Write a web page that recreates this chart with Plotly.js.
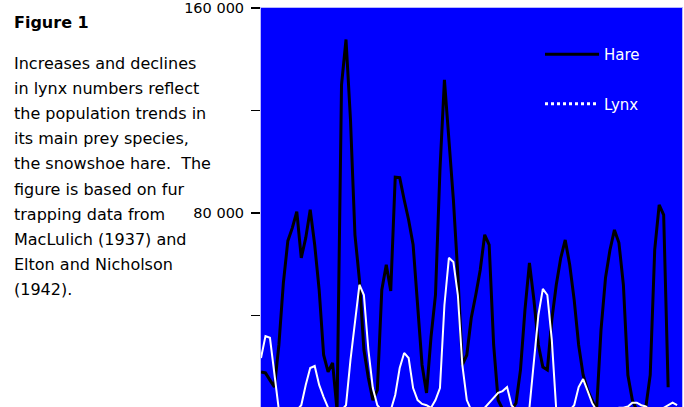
<!DOCTYPE html>
<html>
<head>
<meta charset="utf-8">
<script src="https://cdn.plot.ly/plotly-3.0.1.min.js"></script>
<style>
  html, body { margin: 0; padding: 0; background: #ffffff; }
  #chart { width: 684px; height: 407px; }
</style>
</head>
<body>
<div id="chart"></div>
<script>
// ---- data ----
const years = [1845,1846,1847,1848,1849,1850,1851,1852,1853,1854,1855,1856,1857,1858,1859,1860,1861,1862,1863,1864,
  1865,1866,1867,1868,1869,1870,1871,1872,1873,1874,1875,1876,1877,1878,1879,1880,1881,1882,1883,1884,
  1885,1886,1887,1888,1889,1890,1891,1892,1893,1894,1895,1896,1897,1898,1899,1900,1901,1902,1903,1904,
  1905,1906,1907,1908,1909,1910,1911,1912,1913,1914,1915,1916,1917,1918,1919,1920,1921,1922,1923,1924,
  1925,1926,1927,1928,1929,1930,1931,1932,1933,1934,1935,1936,1937,1938];

const hare = [18000,17600,14800,12100,28500,52700,69100,74200,80500,62500,70300,81300,67600,50000,24600,18000,21500,3000,130000,147700,
  116400,71500,53900,26600,15600,7000,10900,50000,59800,49600,94000,93800,85200,77300,67600,44100,20700,9800,31600,48000,
  96900,132000,108600,85200,55900,20700,24600,39100,48000,57800,71500,67600,28500,7000,3500,3000,3000,5900,18800,42200,
  60500,46100,28500,19900,18800,38300,52000,62500,69500,59800,46100,28500,16800,10900,7000,3000,34400,54700,65600,73400,
  68400,52000,16800,7000,3000,3000,4000,16800,65600,83200,79300,12000,null,null];

const lynx = [23400,32000,31300,16800,3000,2000,2000,2000,3000,5000,12900,19500,20300,12900,8200,4000,3000,2000,3000,5000,
  22700,37500,52000,48000,26600,11700,5000,3000,3000,3000,9000,19500,25400,23400,11700,7000,5500,5000,4000,7000,
  11700,44100,62500,60900,48000,20700,7000,3000,3000,3000,4000,5900,8200,9800,10500,12100,5000,3000,3000,3000,
  4000,20700,40200,50400,48000,30500,3000,3000,3000,3000,5000,12100,15200,10900,5900,3000,3000,3000,3000,3000,
  4000,4000,4500,6000,6000,5000,4500,3000,3000,3000,4000,5000,6000,5000];

const seriesNames = ['Hare', 'Lynx'];
const yTickVals = [40000, 80000, 120000, 160000];
const yTickText = ['', '80 000', '', '160 000'];

const figureTitle = 'Figure 1';
const captionLines = [
  'Increases and declines',
  'in lynx numbers reflect',
  'the population trends in',
  'its main prey species,',
  'the snowshoe hare.\u00a0 The',
  'figure is based on fur',
  'trapping data from',
  'MacLulich (1937) and',
  'Elton and Nicholson',
  '(1942).'
];

// ---- layout helpers (pixel -> paper) ----
const W = 684, H = 407;
const M = {l: 261, r: 2, t: 8, b: 0};
const PW = W - M.l - M.r, PH = H - M.t - M.b;
const px = x => (x - M.l) / PW;
const py = y => (H - M.b - y) / PH;

const traces = [
  {
    x: years, y: hare, name: seriesNames[0], type: 'scatter', mode: 'lines',
    line: {color: '#000000', width: 3}, legendgroup: 'a'
  },
  {
    x: years, y: lynx, name: seriesNames[1], type: 'scatter', mode: 'lines',
    line: {color: '#ffffff', width: 2}, showlegend: false, legendgroup: 'b'
  },
  {
    x: [null], y: [null], name: seriesNames[1], type: 'scatter', mode: 'lines',
    line: {color: '#ffffff', width: 3, dash: 'dot'}, legendgroup: 'b', hoverinfo: 'skip'
  }
];

const annotations = [{
  text: '<b>' + figureTitle + '</b>', xref: 'paper', yref: 'paper',
  x: px(12), y: py(22), xanchor: 'left', yanchor: 'middle', showarrow: false,
  font: {family: 'DejaVu Sans', size: 16, color: '#000'}
}];
captionLines.forEach((t, i) => {
  annotations.push({
    text: t, xref: 'paper', yref: 'paper',
    x: px(12), y: py(63 + i * 25.2), xanchor: 'left', yanchor: 'middle', showarrow: false,
    font: {family: 'DejaVu Sans', size: 16, color: '#000'}
  });
});

const layout = {
  width: W, height: H,
  margin: M,
  paper_bgcolor: '#ffffff',
  plot_bgcolor: '#0000ff',
  showlegend: true,
  legend: {
    x: px(540), y: py(38), xanchor: 'left', yanchor: 'top',
    bgcolor: 'rgba(0,0,0,0)', borderwidth: 0,
    font: {family: 'DejaVu Sans', size: 15, color: '#ffffff'},
    traceorder: 'grouped', tracegroupgap: 27, itemwidth: 54
  },
  xaxis: {
    range: [1845, 1939.1], showticklabels: false, ticks: '', showgrid: false, zeroline: false,
    showline: true, mirror: true, linecolor: '#b8b8ff', linewidth: 1, fixedrange: true
  },
  yaxis: {
    range: [4300, 160000], tickvals: yTickVals, ticktext: yTickText,
    ticks: 'outside', ticklen: 9, tickwidth: 1.5, tickcolor: '#000000',
    ticklabelstandoff: 4,
    showgrid: false, zeroline: false, showline: true, mirror: true,
    linecolor: '#b8b8ff', linewidth: 1,
    tickfont: {family: 'DejaVu Sans', size: 14.5, color: '#000000'}, fixedrange: true
  },
  annotations: annotations
};

Plotly.newPlot('chart', traces, layout, {displayModeBar: false, staticPlot: true});
</script>
</body>
</html>
